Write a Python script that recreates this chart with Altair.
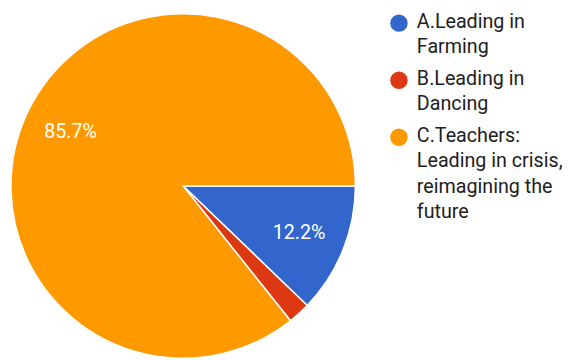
import math
import altair as alt
import pandas as pd

categories = ["A.Leading in Farming", "B.Leading in Dancing", "C.Teachers: Leading in crisis, reimagining the future"]
legend_lines = [["A.Leading in", "Farming"], ["B.Leading in", "Dancing"],
                ["C.Teachers:", "Leading in crisis,", "reimagining the", "future"]]
values = [12.2, 2.1, 85.7]
labels = ["12.2%", "", "85.7%"]
colors = ["#3366CC", "#DC3912", "#FF9900"]

df = pd.DataFrame({"cat": categories, "value": values, "label": labels, "order": [0, 1, 2]})

rows = []
g = 0
for e, lines in enumerate(legend_lines):
    for i, line in enumerate(lines):
        rows.append({"cat": categories[e], "text": line, "entry": e, "line": i, "g": g})
        g += 1
leg = pd.DataFrame(rows)

color_scale = alt.Scale(domain=categories, range=colors)
theta_scale = alt.Scale(range=[math.pi / 2, math.pi / 2 + 2 * math.pi])

base = alt.Chart(df).encode(
    theta=alt.Theta("value:Q", stack=True, scale=theta_scale),
    order=alt.Order("order:Q"),
)

pie = base.mark_arc(outerRadius=175, stroke="white", strokeWidth=1.5).encode(
    color=alt.Color("cat:N", scale=color_scale, legend=None)
)

text = base.mark_text(radius=127, font="Roboto", fontSize=20, color="white").encode(
    text="label:N"
)

pie_chart = (pie + text).properties(width=352, height=352)

leg_base = alt.Chart(leg).transform_calculate(
    ypos="15 + datum.g * 26 + datum.entry * 6",
    dpos="10.5 + datum.g * 26 + datum.entry * 6",
)

leg_text = leg_base.mark_text(
    align="left", baseline="alphabetic", font="Roboto", fontSize=20, color="#212121"
).encode(
    x=alt.value(59.5),
    y=alt.Y("ypos:Q", scale=None, axis=None),
    text="text:N",
)

leg_dots = leg_base.transform_filter("datum.line == 0").mark_point(
    shape="circle", filled=True, size=314, opacity=1
).encode(
    x=alt.value(41.3),
    y=alt.Y("dpos:Q", scale=None, axis=None),
    color=alt.Color("cat:N", scale=color_scale, legend=None),
)

legend_chart = (leg_dots + leg_text).properties(width=203, height=352)

chart = alt.hconcat(pie_chart, legend_chart, spacing=0).properties(
    padding=0
).configure_view(stroke=None)

chart.save("out.html", embed_options={"renderer": "svg", "actions": False})
